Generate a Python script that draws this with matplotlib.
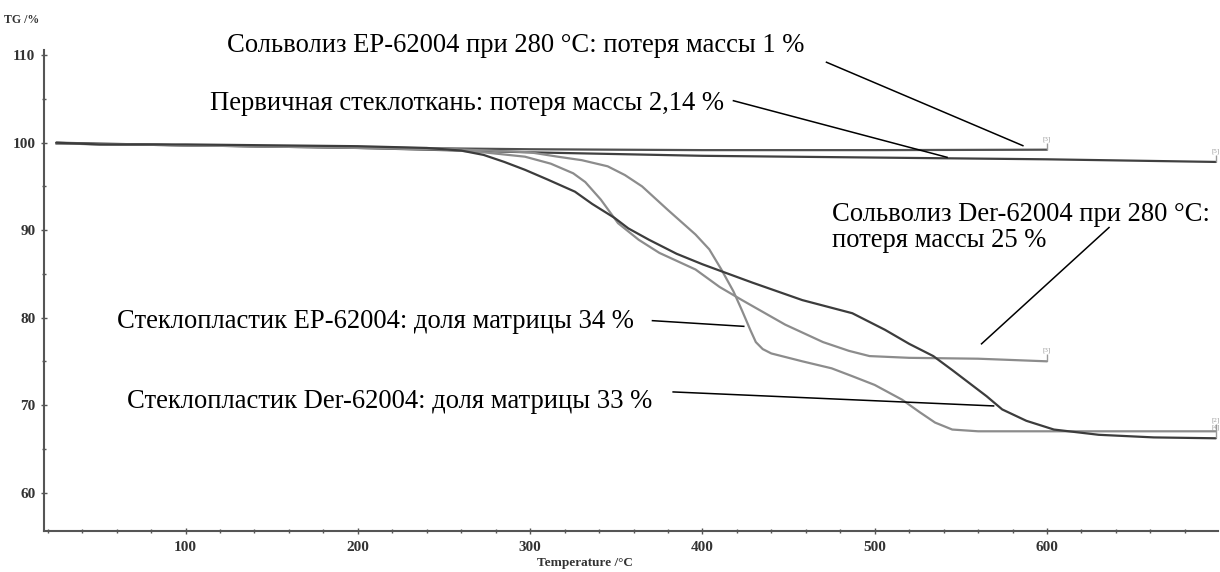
import matplotlib.pyplot as plt
from matplotlib.ticker import MultipleLocator

# TG curves (temperature °C, mass %)
fiber_t = [25, 100, 200, 300, 400, 500, 600, 698]
fiber_tg = [100.0, 99.7, 99.4, 98.9, 98.5, 98.3, 98.1, 97.8]

solv_ep_t = [25, 100, 200, 300, 400, 500, 600]
solv_ep_tg = [99.9, 99.7, 99.45, 99.25, 99.15, 99.15, 99.2]

solv_der_t = [25, 100, 200, 250, 273, 297, 312, 325, 332, 341, 351, 363, 375,
              396, 410, 423, 448, 470, 485, 497, 520, 560, 600]
solv_der_tg = [99.9, 99.7, 99.4, 99.2, 98.9, 98.4, 97.6, 96.5, 95.5, 93.5, 90.8,
               88.9, 87.4, 85.5, 83.5, 82.0, 79.2, 77.2, 76.2, 75.6, 75.4, 75.3, 75.0]

comp_dark_t = [25, 50, 100, 150, 200, 240, 260, 273, 285, 297, 310, 326, 336, 349,
               357, 369, 385, 400, 411, 429, 458, 487, 506, 520, 534, 545, 555, 565,
               574, 588, 604, 630, 662, 698]
comp_dark_tg = [100.0, 99.8, 99.8, 99.7, 99.6, 99.4, 99.1, 98.6, 97.8, 96.9, 95.8,
                94.4, 93.0, 91.4, 90.2, 88.9, 87.3, 86.1, 85.3, 84.0, 82.0, 80.5,
                78.6, 77.0, 75.6, 74.0, 72.5, 71.0, 69.5, 68.2, 67.2, 66.6, 66.3, 66.2]

comp_gray_t = [25, 100, 200, 250, 300, 316, 330, 345, 355, 365, 380, 396, 404, 411,
               418, 423, 428, 431, 435, 440, 448, 458, 475, 487, 500, 516, 526, 535,
               545, 560, 600, 698]
comp_gray_tg = [99.9, 99.7, 99.5, 99.3, 98.9, 98.4, 98.0, 97.3, 96.3, 95.0, 92.3,
                89.5, 87.8, 85.5, 83.0, 80.8, 78.5, 77.2, 76.4, 75.9, 75.5, 75.0,
                74.2, 73.3, 72.3, 70.6, 69.2, 68.0, 67.2, 67.0, 67.0, 67.0]

# annotations: text, text anchor (T, TG), pointer start, pointer end
notes = [
    ("Сольволиз EP-62004 при 280 °C: потеря массы 1 %", (124, 111.15), (472, 109.2), (586, 99.66)),
    ("Первичная стеклоткань: потеря массы 2,14 %", (114, 104.5), (418, 104.8), (542, 98.33)),
    ("Сольволиз Der-62004 при 280 °C:\nпотеря массы 25 %", (475, 90.3), (636, 90.3), (562, 77.0)),
    ("Стеклопластик EP-62004: доля матрицы 34 %", (60, 79.5), (371, 79.65), (424, 79.0)),
    ("Стеклопластик Der-62004: доля матрицы 33 %", (66, 70.4), (383, 71.5), (569, 69.9)),
]

curves = [
    (fiber_t, fiber_tg, "#404040", "[5]"),
    (solv_ep_t, solv_ep_tg, "#505050", "[3]"),
    (solv_der_t, solv_der_tg, "#8c8c8c", "[3]"),
    (comp_gray_t, comp_gray_tg, "#8c8c8c", "[2]"),
    (comp_dark_t, comp_dark_tg, "#3c3c3c", "[4]"),
]

fig = plt.figure(figsize=(12.2, 5.72), dpi=100)
ax = fig.add_axes([0.0363, 0.0717, 0.9617, 0.8409])

for t, tg, color, tag in curves:
    ax.plot(t, tg, color=color, linewidth=1.6, solid_capstyle="round")
    ax.vlines(t[-1], tg[-1], tg[-1] + 0.8, color="#9a9a9a", linewidth=1)
    ax.text(t[-1], tg[-1] + 0.9, tag, fontsize=5, color="#9a9a9a",
            ha="center", va="bottom", family="Liberation Serif")

for text, pos, p0, p1 in notes:
    ax.text(pos[0], pos[1], text, fontsize=19.2, family="Liberation Serif",
            ha="left", va="center", linespacing=1.1)
    ax.plot([p0[0], p1[0]], [p0[1], p1[1]], color="black", linewidth=1.1)

ax.set_xlim(18, 699)
ax.set_ylim(55.6, 110.6)
ax.xaxis.set_major_locator(MultipleLocator(100))
ax.xaxis.set_minor_locator(MultipleLocator(20))
ax.yaxis.set_major_locator(MultipleLocator(10))
ax.yaxis.set_minor_locator(MultipleLocator(5))
ax.set_yticks(range(60, 111, 10))

for side in ("top", "right"):
    ax.spines[side].set_visible(False)
for side in ("left", "bottom"):
    ax.spines[side].set_color("#555555")
    ax.spines[side].set_linewidth(1.5)

ax.tick_params(which="both", direction="inout", color="#555555", width=1)
ax.tick_params(which="major", length=5)
ax.tick_params(which="minor", length=3)
ax.tick_params(axis="x", pad=5)
ax.tick_params(axis="y", pad=4)
for lab in ax.get_xticklabels() + ax.get_yticklabels():
    lab.set_family("Liberation Serif")
    lab.set_fontweight("bold")
    lab.set_fontsize(11)
    lab.set_color("#333333")

ax.set_xlabel("Temperature /°C", family="Liberation Serif", fontweight="bold",
              fontsize=9.5, color="#333333", labelpad=0)
ax.xaxis.set_label_coords(0.461, -0.055)
fig.text(0.018, 0.965, "TG /%", family="Liberation Serif", fontweight="bold",
         fontsize=8.5, color="#333333", ha="center", va="center")

fig.savefig("out.png", dpi=100)
